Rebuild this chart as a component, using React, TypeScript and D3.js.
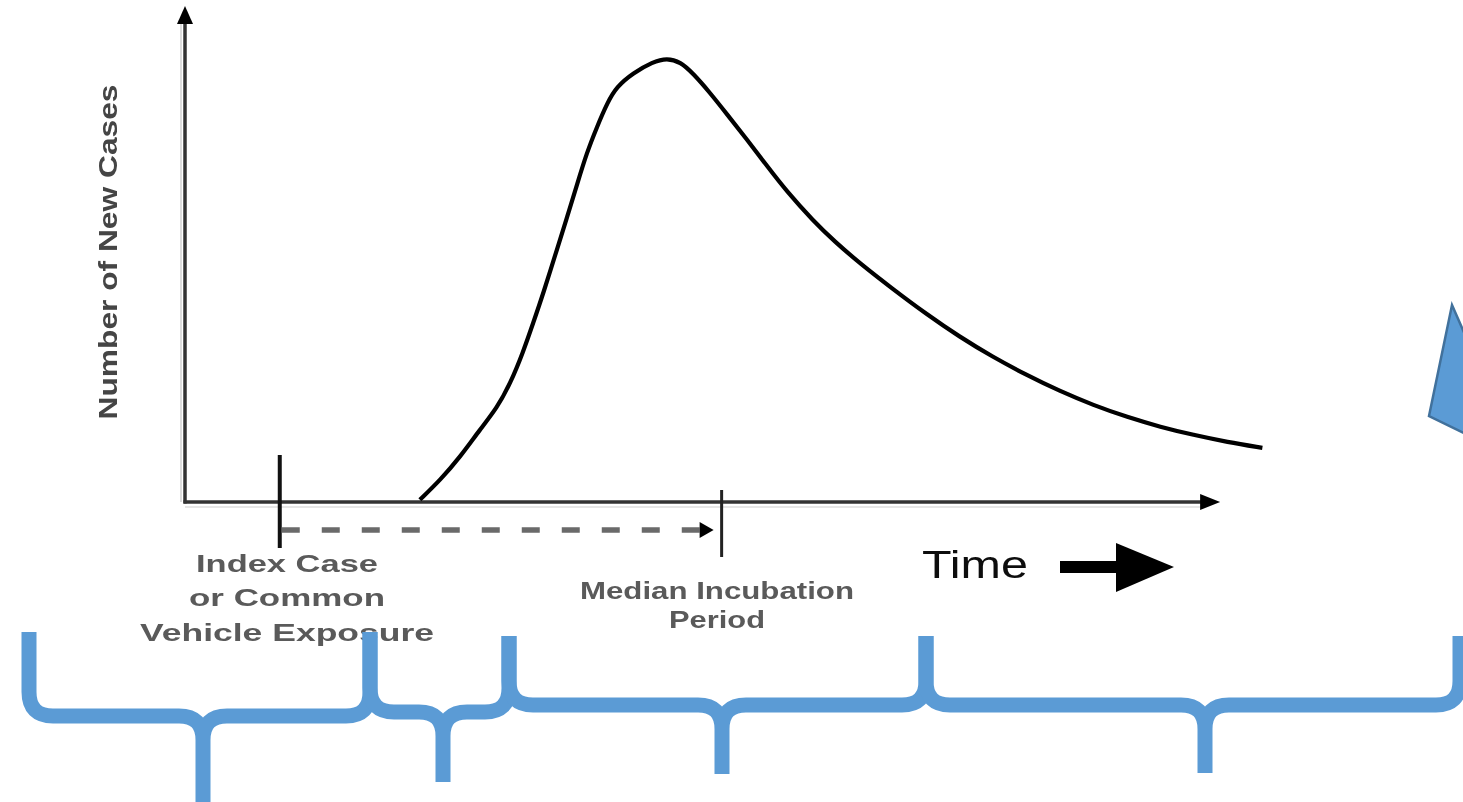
import React from "react";
import * as d3 from "d3";

// Epidemic curve (time units, relative number of new cases; peak = 100)
const curveTime = [22.8, 24.8, 26.7, 28.6, 30.3, 31.6, 32.8, 33.8, 34.8, 36.1, 37.1, 38.1, 39.0, 40.0, 41.0, 41.9, 43.5, 45.4, 46.8, 48.1, 49.3, 51.0, 52.6, 54.6, 56.5, 58.4, 61.0, 63.1, 65.5, 68.7, 72.0, 75.2, 78.4, 81.7, 84.9, 88.2, 91.5, 94.7, 97.9, 101.2, 104.6];
const curveCases = [0.5, 5.0, 10.1, 16.2, 21.2, 26.8, 33.6, 40.3, 47.1, 56.8, 64.2, 71.8, 78.6, 84.5, 89.9, 93.5, 96.6, 99.1, 100, 99.1, 96.6, 92.1, 87.4, 81.5, 75.7, 70.0, 63.3, 58.6, 53.8, 48.0, 42.3, 37.2, 32.7, 28.6, 25.0, 21.8, 19.1, 16.9, 15.1, 13.5, 12.2];

// Markers on the time axis
const indexExposureTime = 9.2;
const medianIncubationTime = 52.1;

// Text labels
const yAxisTitle = "Number of New Cases";
const xAxisTitle = "Time";
const indexLabel = ["Index Case", "or Common", "Vehicle Exposure"];
const medianLabel = ["Median Incubation", "Period"];

// Axis extents (domain units)
const timeDomain = [0, 100];
const casesDomain = [0, 100];
const timeAxisEnd = 100.5;
const casesAxisEnd = 111.7;

const W = 1463;
const H = 802;

// Annotation braces (page geometry)
const braces = [
  { xl: 29, xc: 203, xr: 370, topL: 632, topR: 632, bar: 716, bottom: 810 },
  { xl: 370, xc: 443, xr: 509, topL: 632, topR: 636, bar: 712, bottom: 782 },
  { xl: 509, xc: 722, xr: 926, topL: 636, topR: 636, bar: 705, bottom: 774 },
  { xl: 926, xc: 1205, xr: 1460, topL: 636, topR: 636, bar: 705, bottom: 773 },
];

function bracePath(b: { xl: number; xc: number; xr: number; topL: number; topR: number; bar: number; bottom: number }) {
  const r = 24;
  const p = d3.path();
  p.moveTo(b.xl, b.topL);
  p.lineTo(b.xl, b.bar - r);
  p.quadraticCurveTo(b.xl, b.bar, b.xl + r, b.bar);
  p.lineTo(b.xc - r, b.bar);
  p.quadraticCurveTo(b.xc, b.bar, b.xc, b.bar + r);
  p.lineTo(b.xc, b.bottom);
  p.moveTo(b.xc, b.bar + r);
  p.quadraticCurveTo(b.xc, b.bar, b.xc + r, b.bar);
  p.lineTo(b.xr - r, b.bar);
  p.quadraticCurveTo(b.xr, b.bar, b.xr, b.bar - r);
  p.lineTo(b.xr, b.topR);
  return p.toString();
}

export default function App() {
  const x = d3.scaleLinear().domain(timeDomain).range([185, 1215]);
  const y = d3.scaleLinear().domain(casesDomain).range([502, 58]);

  const data = curveTime.map((t, i) => ({ t, c: curveCases[i] }));
  const line = d3
    .line<{ t: number; c: number }>()
    .x((d) => x(d.t))
    .y((d) => y(d.c))
    .curve(d3.curveBasis);

  const x0 = x(0);
  const y0 = y(0);
  const xEnd = x(timeAxisEnd);
  const yEnd = y(casesAxisEnd);
  const xi = x(indexExposureTime);
  const xm = x(medianIncubationTime);

  const labelStyle: React.CSSProperties = {
    fontFamily: "'Liberation Sans', Arial, sans-serif",
    fontWeight: 700,
  };

  return (
    <div style={{ position: "absolute", left: 0, top: 0, width: W, height: H, overflow: "hidden", background: "#fff" }}>
      <svg width={W} height={H} viewBox={`0 0 ${W} ${H}`}>
        <defs>
          <filter id="soft" x="-5%" y="-20%" width="110%" height="140%">
            <feGaussianBlur stdDeviation="0.6" />
          </filter>
        </defs>

        {/* axes */}
        <line x1={x0 - 4} y1={y0} x2={x0 - 4} y2={yEnd + 16} stroke="#ddd" strokeWidth={2} />
        <line x1={x0} y1={y0 + 5} x2={xEnd - 16} y2={y0 + 5} stroke="#e6e6e6" strokeWidth={2} />
        <line x1={x0} y1={y0 + 1.5} x2={x0} y2={yEnd + 14} stroke="#333" strokeWidth={3.5} />
        <line x1={x0 - 1.5} y1={y0} x2={xEnd - 14} y2={y0} stroke="#333" strokeWidth={3.5} />
        <path d={`M${x0},${yEnd} L${x0 - 8},${yEnd + 18} L${x0 + 8},${yEnd + 18} Z`} fill="#000" />
        <path d={`M${xEnd},${y0} L${xEnd - 20},${y0 - 8} L${xEnd - 20},${y0 + 8} Z`} fill="#000" />

        {/* y title */}
        <text
          transform={`translate(108, 252) rotate(-90)`}
          textAnchor="middle"
          dominantBaseline="central"
          fontSize={26}
          fill="#444"
          textLength={335}
          lengthAdjust="spacingAndGlyphs"
          style={labelStyle}
          filter="url(#soft)"
        >
          {yAxisTitle}
        </text>

        {/* epidemic curve */}
        <path d={line(data) || ""} fill="none" stroke="#000" strokeWidth={4.2} strokeLinejoin="round" />

        {/* index exposure tick */}
        <line x1={xi} y1={455} x2={xi} y2={548} stroke="#111" strokeWidth={4} />
        {/* median incubation tick */}
        <line x1={xm} y1={490} x2={xm} y2={557} stroke="#222" strokeWidth={3} />

        {/* dashed incubation arrow */}
        <line x1={xi + 2} y1={530} x2={xm - 22} y2={530} stroke="#6a6a6a" strokeWidth={5.5} strokeDasharray="18 22" />
        <path d={`M${xm - 8},530 L${xm - 22},522 L${xm - 22},538 Z`} fill="#000" />

        {/* index labels */}
        {indexLabel.map((s, i) => (
          <text
            key={s}
            x={287}
            y={[572, 606, 641][i]}
            textAnchor="middle"
            fontSize={24}
            fill="#5a5a5a"
            textLength={[182, 196, 294][i]}
            lengthAdjust="spacingAndGlyphs"
            style={labelStyle}
            filter="url(#soft)"
          >
            {s}
          </text>
        ))}

        {/* median labels */}
        {medianLabel.map((s, i) => (
          <text
            key={s}
            x={717}
            y={[599, 628][i]}
            textAnchor="middle"
            fontSize={23}
            fill="#5a5a5a"
            textLength={[274, 96][i]}
            lengthAdjust="spacingAndGlyphs"
            style={labelStyle}
            filter="url(#soft)"
          >
            {s}
          </text>
        ))}

        {/* Time label + arrow */}
        <text
          x={922}
          y={578}
          fontSize={38}
          fill="#111"
          textLength={106}
          lengthAdjust="spacingAndGlyphs"
          style={{ fontFamily: "'Liberation Sans', Arial, sans-serif", fontWeight: 400 }}
          filter="url(#soft)"
        >
          {xAxisTitle}
        </text>
        <rect x={1060} y={561} width={60} height={12} fill="#000" />
        <path d="M1174,567 L1116,543 L1116,592 Z" fill="#000" />

        {/* braces */}
        {braces.map((b, i) => (
          <path key={i} d={bracePath(b)} fill="none" stroke="#5B9BD5" strokeWidth={15} strokeLinejoin="round" />
        ))}

        {/* partial shape at right edge */}
        <path d="M1452,305 L1480,369 L1480,441 L1429,416 Z" fill="#5B9BD5" stroke="#41719C" strokeWidth={2.5} strokeLinejoin="miter" />
      </svg>
    </div>
  );
}
